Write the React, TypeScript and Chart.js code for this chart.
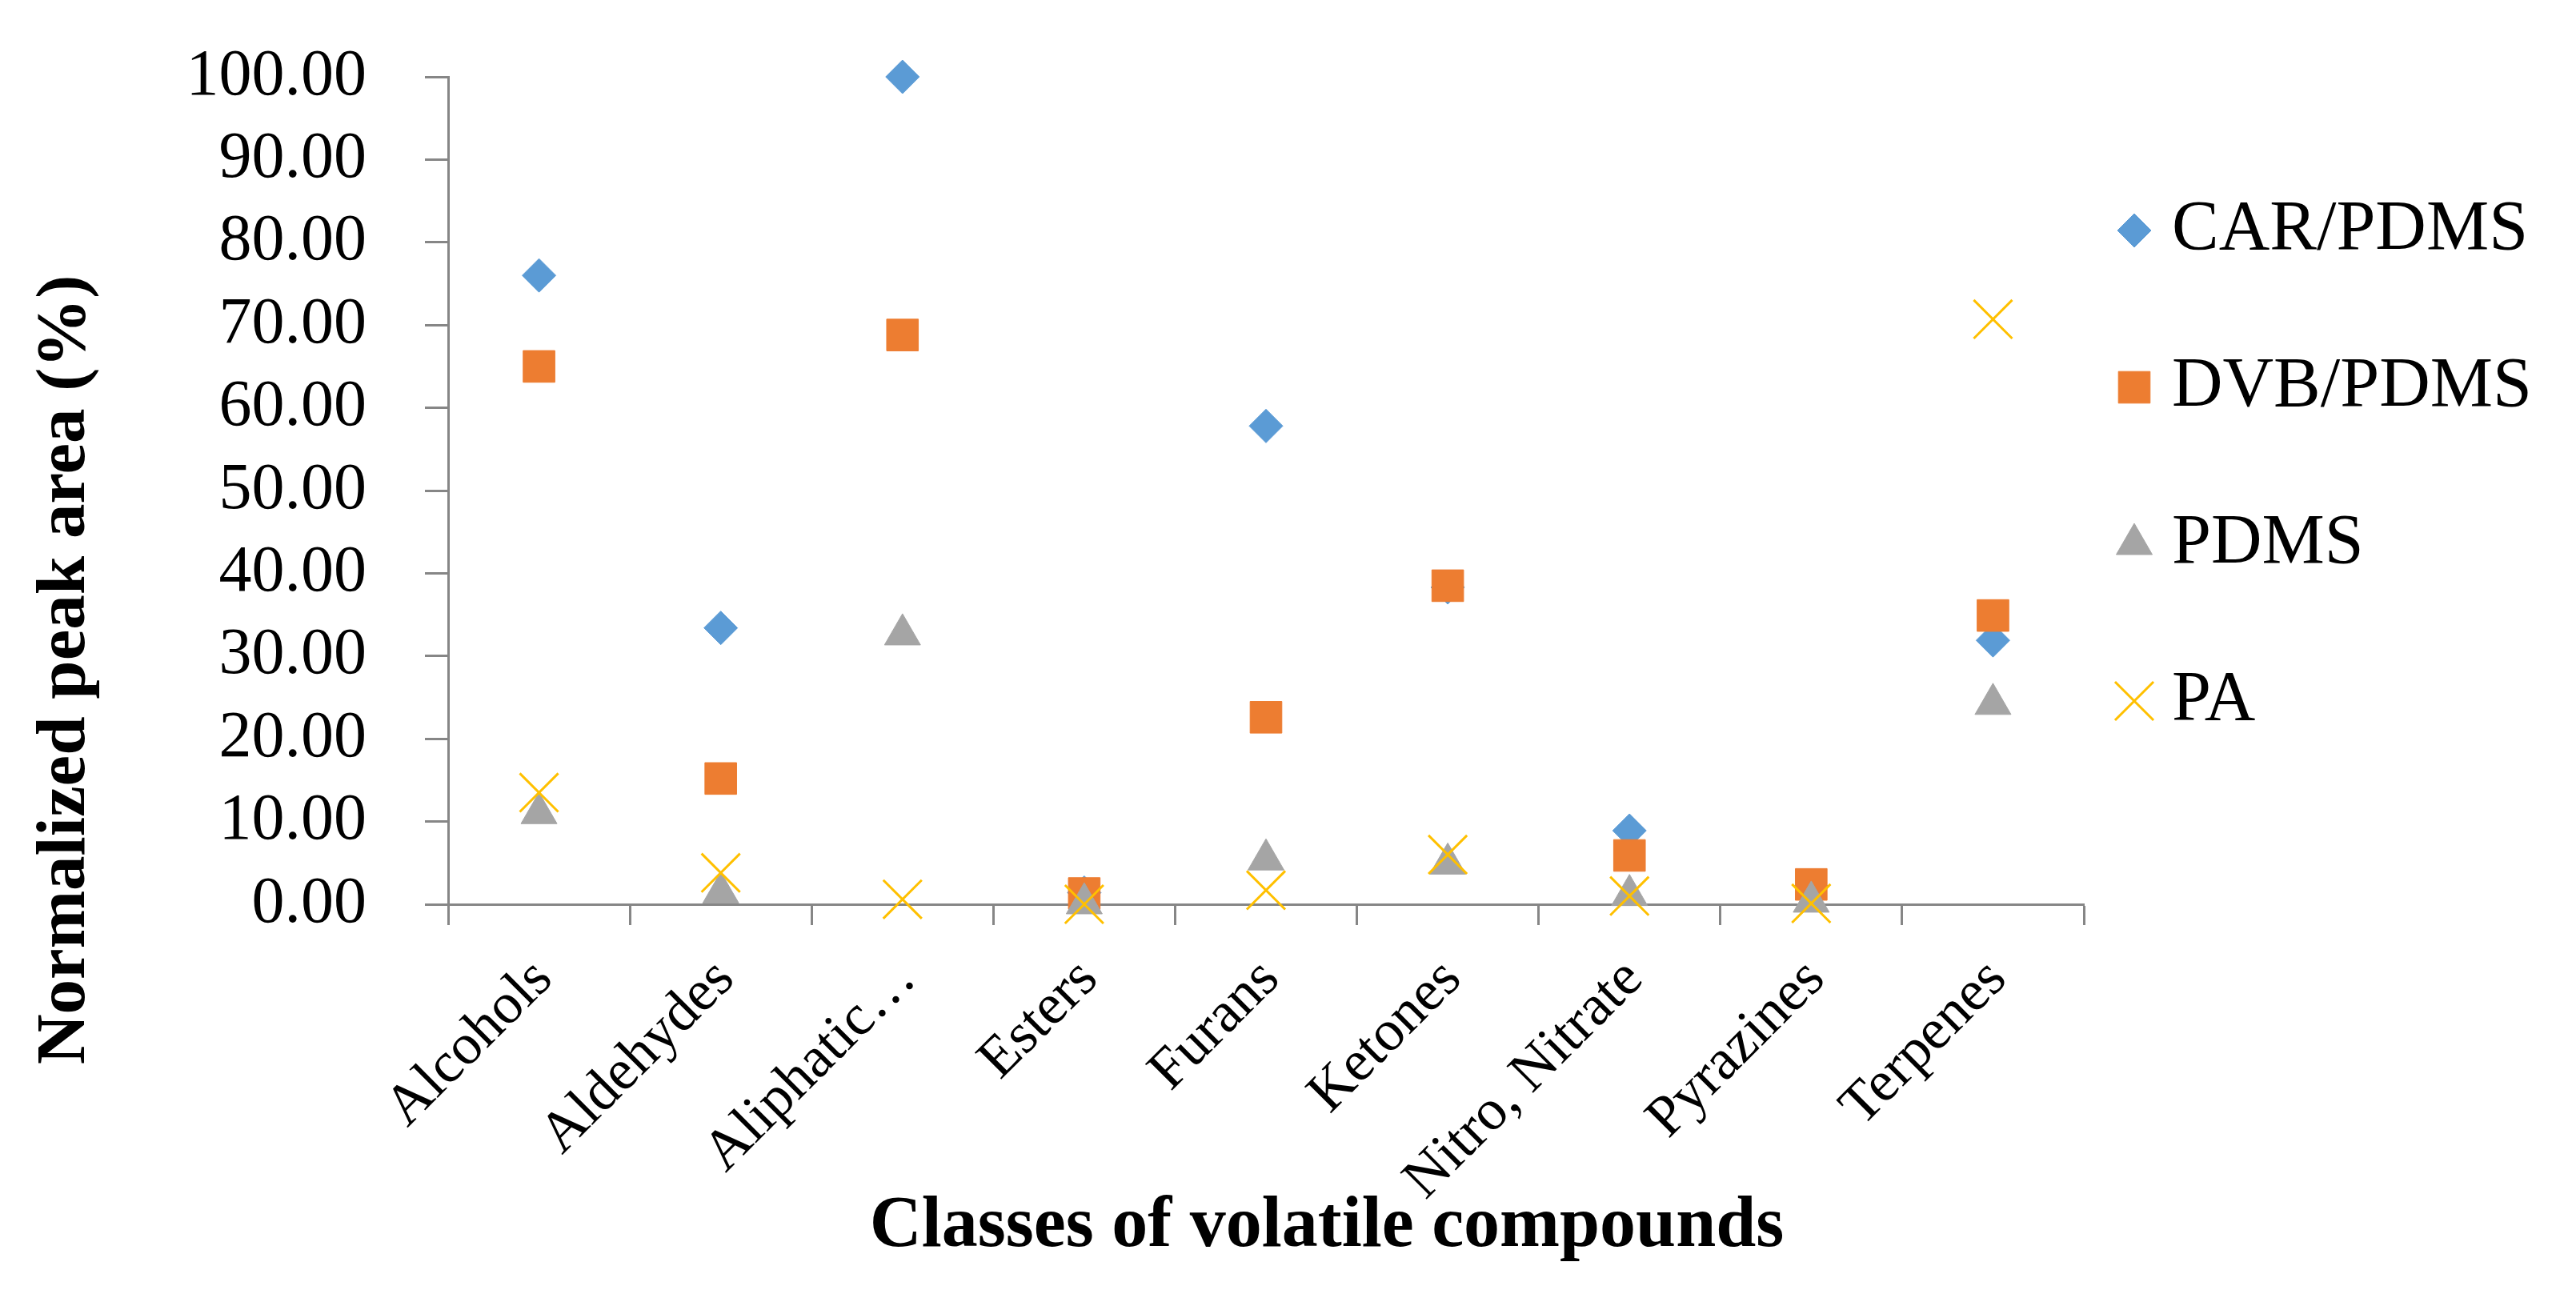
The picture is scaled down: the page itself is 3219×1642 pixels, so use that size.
import { useEffect, useRef } from "react"
import { Chart, registerables } from "chart.js"
import { drawPoint } from "chart.js/helpers"

Chart.register(...registerables)

// categories on the x axis
const categories = [
  "Alcohols",
  "Aldehydes",
  "Aliphatic…",
  "Esters",
  "Furans",
  "Ketones",
  "Nitro, Nitrate",
  "Pyrazines",
  "Terpenes",
]

// normalized peak area (%) per fibre
const carPdms = [76.0, 33.4, 100.0, 1.4, 57.8, 38.3, 8.9, 2.2, 31.9]
const dvbPdms = [65.0, 15.2, 68.8, 1.3, 22.6, 38.5, 5.9, 2.4, 34.9]
const pdms = [11.0, 1.4, 32.6, 0.1, 5.4, 4.9, 1.1, 0.3, 24.2]
const pa = [13.5, 3.8, 0.6, 0.0, 1.7, 6.0, 1.0, 0.1, 70.7]

const seriesNames = ["CAR/PDMS", "DVB/PDMS", "PDMS", "PA"]

const yMin = 0
const yMax = 100
const yStep = 10

const yTitle = "Normalized peak area (%)"
const xTitle = "Classes of volatile compounds"

const FONT = '"Liberation Serif", "Times New Roman", serif'
const AXIS_GRAY = "#868686"

// axis titles and legend are placed like Excel does it (centred on the whole figure)
const figureText = {
  id: "figureText",
  afterDraw(chart: any) {
    const { ctx } = chart
    ctx.save()
    ctx.fillStyle = "#000000"
    ctx.textBaseline = "middle"
    ctx.textAlign = "center"

    ctx.save()
    ctx.font = `bold 87px ${FONT}`
    ctx.translate(83, 837)
    ctx.rotate(-Math.PI / 2)
    ctx.fillText(yTitle, 0, 0)
    ctx.restore()

    ctx.font = `bold 90px ${FONT}`
    ctx.fillText(xTitle, 1658, 1534)

    chart.data.datasets.forEach((ds: any, i: number) => {
      const y = 288 + i * 196
      ctx.fillStyle = ds.backgroundColor
      ctx.strokeStyle = ds.borderColor
      ctx.lineWidth = ds.borderWidth
      drawPoint(
        ctx,
        {
          pointStyle: ds.pointStyle,
          radius: ds.pointRadius,
          rotation: 0,
          borderWidth: ds.borderWidth,
        },
        2667,
        y
      )
      ctx.fillStyle = "#000000"
      ctx.font = `88px ${FONT}`
      ctx.textAlign = "left"
      ctx.fillText(ds.label, 2714, y)
    })
    ctx.restore()
  },
}

export default function App() {
  const canvasRef = useRef<HTMLCanvasElement>(null)
  const chartRef = useRef<Chart | null>(null)

  useEffect(() => {
    document.body.style.margin = "0"
    if (!canvasRef.current) return
    const ctx = canvasRef.current.getContext("2d")
    if (!ctx) return

    if (chartRef.current) chartRef.current.destroy()

    const marker = (
      label: string,
      data: number[],
      color: string,
      style: string,
      radius: number,
      order: number,
      stroke = 1
    ) => ({
      label,
      data,
      showLine: false,
      pointStyle: style,
      pointRadius: radius,
      pointHoverRadius: radius,
      backgroundColor: color,
      borderColor: color,
      pointBackgroundColor: color,
      pointBorderColor: color,
      borderWidth: stroke,
      pointBorderWidth: stroke,
      order,
      clip: false as const,
    })

    chartRef.current = new Chart(ctx, {
      type: "line",
      data: {
        labels: categories,
        datasets: [
          marker(seriesNames[0], carPdms, "#5B9BD5", "rectRot", 21, 4),
          marker(seriesNames[1], dvbPdms, "#ED7D31", "rect", 28, 3),
          marker(seriesNames[2], pdms, "#A5A5A5", "triangle", 26, 2),
          marker(seriesNames[3], pa, "#FFC000", "crossRot", 34, 1, 3),
        ] as any,
      },
      options: {
        animation: false,
        responsive: true,
        maintainAspectRatio: false,
        layout: { padding: { left: 0, top: 96, right: 615, bottom: 0 } },
        plugins: {
          legend: { display: false },
          tooltip: { enabled: false },
        },
        scales: {
          x: {
            type: "category",
            offset: true,
            afterFit: (scale: any) => {
              scale.height = 1642 - 1130
            },
            grid: {
              offset: true,
              drawOnChartArea: false,
              drawTicks: true,
              tickLength: 26,
              tickColor: AXIS_GRAY,
              tickWidth: 3,
            },
            border: { display: true, color: AXIS_GRAY, width: 3 },
            ticks: {
              autoSkip: false,
              minRotation: 45,
              maxRotation: 45,
              padding: 26,
              labelOffset: 6,
              color: "#000000",
              font: { family: FONT, size: 72 },
            },
          },
          y: {
            min: yMin,
            max: yMax,
            afterFit: (scale: any) => {
              scale.width = 560
              // the tick padding should not push the plot down
              scale.paddingTop = 0
              scale.paddingBottom = 0
            },
            grid: {
              drawOnChartArea: false,
              drawTicks: true,
              tickLength: 29,
              tickColor: AXIS_GRAY,
              tickWidth: 3,
            },
            border: { display: true, color: AXIS_GRAY, width: 3 },
            ticks: {
              autoSkip: false,
              stepSize: yStep,
              padding: 73,
              color: "#000000",
              font: { family: FONT, size: 82 },
              callback: (value) => Number(value).toFixed(2),
            },
          },
        },
      },
      plugins: [figureText],
    })

    return () => {
      if (chartRef.current) {
        chartRef.current.destroy()
        chartRef.current = null
      }
    }
  }, [])

  return (
    <div style={{ width: 3219, height: 1642, position: "relative", background: "#ffffff" }}>
      <canvas ref={canvasRef}></canvas>
    </div>
  )
}
